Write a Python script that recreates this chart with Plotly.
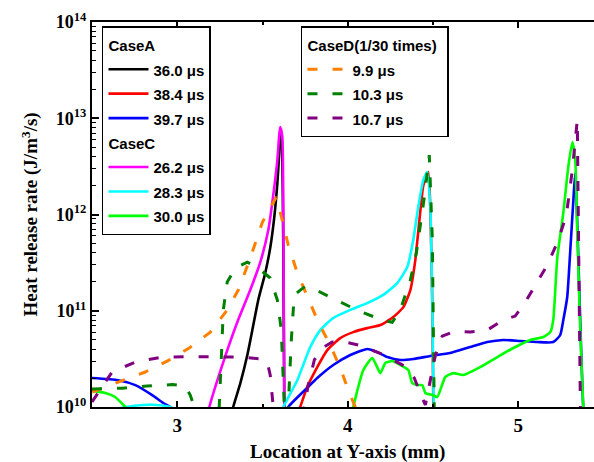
import plotly.graph_objects as go

# ---------------- data ----------------
# CaseA
x_a360 = [3.317, 3.328, 3.37, 3.411, 3.446, 3.475, 3.516, 3.545, 3.569, 3.587, 3.598, 3.604, 3.613, 3.622, 3.628, 3.633]
y_a360 = [8e9, 1e10, 1.77e10, 3.47e10, 7.1e10, 1.29e11, 2.47e11, 4.48e11, 9.4e11, 2.12e12, 4.34e12, 7.2e12, 5.9e12, 4.27e11, 1e10, 5e9]

x_a384 = [3.70, 3.721, 3.762, 3.821, 3.880, 3.956, 4.032, 4.114, 4.191, 4.267, 4.326, 4.367, 4.396, 4.42, 4.443, 4.472, 4.484, 4.496, 4.502, 4.51]
y_a384 = [8e9, 1e10, 1.61e10, 2.6e10, 3.9e10, 5.2e10, 6.0e10, 6.6e10, 7.1e10, 8.6e10, 1.09e11, 1.64e11, 3.36e11, 8.7e11, 2.0e12, 2.76e12, 1.19e12, 1.09e11, 1e10, 5e9]

x_a397 = [2.50, 2.654, 2.754, 2.853, 2.918, 2.959, 2.99, 3.63, 3.651, 3.762, 3.821, 3.915, 4.015, 4.114, 4.173, 4.232, 4.308, 4.384, 4.484, 4.601, 4.718, 4.818, 4.912, 5.012, 5.111, 5.205, 5.246, 5.264, 5.287, 5.305, 5.323, 5.334, 5.381, 5.40]
y_a397 = [2.0e10, 1.9e10, 1.69e10, 1.33e10, 1.1e10, 1e10, 8e9, 8e9, 1e10, 1.58e10, 2.0e10, 2.73e10, 3.47e10, 4.0e10, 3.72e10, 3.3e10, 3.08e10, 3.15e10, 3.39e10, 3.64e10, 4.2e10, 4.73e10, 4.97e10, 4.85e10, 4.73e10, 4.73e10, 5.6e10, 8.0e10, 1.39e11, 4.27e11, 1.41e12, 2.7e12, 1e10, 5e9]

# CaseC
x_c262 = [3.176, 3.188, 3.270, 3.352, 3.428, 3.487, 3.534, 3.563, 3.587, 3.598, 3.604, 3.616, 3.622, 3.628, 3.633]
y_c262 = [8e9, 1e10, 2.93e10, 7.6e10, 1.64e11, 3.2e11, 6.9e11, 1.59e12, 3.67e12, 6.7e12, 8.1e12, 6.4e12, 1.11e12, 1e10, 5e9]

x_c283 = [2.5, 2.65, 2.70, 2.80, 2.88, 2.96, 3.0, 3.604, 3.622, 3.704, 3.780, 3.839, 3.915, 4.015, 4.114, 4.208, 4.290, 4.349, 4.384, 4.413, 4.443, 4.466, 4.484, 4.496, 4.504, 4.51]
y_c283 = [5e9, 9.5e9, 1.0e10, 1.05e10, 1.05e10, 1.0e10, 9e9, 8e9, 1e10, 1.9e10, 4.2e10, 6.3e10, 8.4e10, 1.02e11, 1.2e11, 1.46e11, 1.94e11, 2.84e11, 5.42e11, 1.19e12, 2.28e12, 2.76e12, 1.19e12, 1.09e11, 1e10, 5e9]

x_c300 = [2.50, 2.578, 2.636, 2.666, 2.695, 2.72, 4.02, 4.032, 4.091, 4.144, 4.191, 4.22, 4.261, 4.308, 4.355, 4.378, 4.408, 4.437, 4.455, 4.496, 4.525, 4.572, 4.619, 4.677, 4.777, 4.877, 4.971, 5.070, 5.147, 5.188, 5.205, 5.229, 5.264, 5.293, 5.317, 5.334, 5.346, 5.364, 5.381, 5.39]
y_c300 = [1.47e10, 1.40e10, 1.27e10, 1.13e10, 1e10, 8e9, 8e9, 1e10, 2.42e10, 3.23e10, 2.25e10, 2.86e10, 3.0e10, 2.73e10, 2.42e10, 1.77e10, 1.69e10, 1.69e10, 1.40e10, 1.33e10, 1.27e10, 2.05e10, 2.25e10, 2.15e10, 2.6e10, 3.3e10, 4.1e10, 4.97e10, 5.33e10, 6.0e10, 8.0e10, 3.6e11, 1.04e12, 3.1e12, 5.65e12, 3.67e12, 6.4e11, 5.9e10, 1e10, 5e9]

# CaseD (1/30 times)
x_d99 = [2.501, 2.677, 2.812, 2.941, 3.070, 3.194, 3.293, 3.358, 3.428, 3.499, 3.581, 3.616, 3.651, 3.704, 3.768, 3.827, 3.897, 3.956, 4.003, 4.044, 4.073]
y_d99 = [1.43e10, 1.86e10, 2.31e10, 3.0e10, 4.1e10, 6.0e10, 1.02e11, 1.64e11, 3.52e11, 8.3e11, 1.52e12, 8.7e11, 4.8e11, 2.47e11, 1.36e11, 7.6e10, 4.4e10, 2.54e10, 1.5e10, 1e10, 8e9]

x_d103 = [2.50, 2.677, 2.824, 2.971, 3.047, 3.076, 3.10, 3.135, 3.217, 3.246, 3.258, 3.27, 3.293, 3.34, 3.411, 3.475, 3.545, 3.587, 3.610, 3.622, 3.628, 3.64, 3.651, 3.669, 3.686, 3.751, 3.839, 3.933, 4.062, 4.202, 4.261, 4.308, 4.367, 4.402, 4.425, 4.449, 4.478, 4.496, 4.507, 4.52]
y_d103 = [1.54e10, 1.57e10, 1.65e10, 1.71e10, 1.65e10, 1.33e10, 1e10, 8e9, 8e9, 1e10, 3.08e10, 1.02e11, 1.99e11, 2.77e11, 3.2e11, 2.77e11, 2.19e11, 1.29e11, 6.3e10, 1.9e10, 1e10, 8e9, 1e10, 4.97e10, 1.46e11, 1.8e11, 1.56e11, 1.29e11, 1.0e11, 8.0e10, 7.6e10, 1.02e11, 2.08e11, 3.97e11, 7.8e11, 1.52e12, 4.14e12, 5.4e11, 1e10, 8e9]

x_d107 = [2.50, 2.548, 2.618, 2.754, 2.90, 3.076, 3.223, 3.37, 3.499, 3.528, 3.545, 3.557, 3.563, 3.575, 3.721, 3.745, 3.768, 3.804, 3.85, 3.909, 3.985, 4.062, 4.202, 4.331, 4.39, 4.425, 4.455, 4.484, 4.513, 4.554, 4.63, 4.718, 4.818, 4.912, 4.982, 5.041, 5.10, 5.17, 5.235, 5.282, 5.317, 5.346, 5.364, 5.376]
y_d107 = [1.13e10, 1.5e10, 2.31e10, 2.93e10, 3.27e10, 3.34e10, 3.3e10, 3.3e10, 3.15e10, 2.93e10, 2.15e10, 1.33e10, 1e10, 8e9, 8e9, 1e10, 1.69e10, 3.08e10, 4.1e10, 4.73e10, 4.73e10, 4.4e10, 3.55e10, 2.67e10, 2.0e10, 1.40e10, 1.05e10, 1.9e10, 3.39e10, 5.46e10, 6.15e10, 6.0e10, 6.3e10, 8.0e10, 8.8e10, 1.23e11, 1.85e11, 2.98e11, 5.42e11, 9.9e11, 2.89e12, 9.6e12, 1e10, 8e9]

# ticks
x_tick_vals = [3, 4, 5]
x_tick_text = ["3", "4", "5"]
x_minor_vals = [2.5, 3.5, 4.5, 5.5]
y_tick_vals = [1e10, 1e11, 1e12, 1e13, 1e14]
y_tick_text = ["10<sup>10</sup>", "10<sup>11</sup>", "10<sup>12</sup>", "10<sup>13</sup>", "10<sup>14</sup>"]
y_minor_vals = [m * 10 ** e for e in range(10, 14) for m in range(2, 10)]

SANS = "Liberation Sans, Arial, sans-serif"
SERIF = "Liberation Serif, Times New Roman, serif"


def leg_text(s):
    # rendered at 15px while the legend rows are laid out for a 16.5px font
    return '<span style="font-size:15px">' + s + '</span>'


series = [
    ("36.0 μs", x_a360, y_a360, "#000000", "solid", "legend", "A", "CaseA"),
    ("38.4 μs", x_a384, y_a384, "#ff0000", "solid", "legend", "A", None),
    ("39.7 μs", x_a397, y_a397, "#0000ff", "solid", "legend", "A", None),
    ("26.2 μs", x_c262, y_c262, "#ff00ff", "solid", "legend", "C", "CaseC"),
    ("28.3 μs", x_c283, y_c283, "#00ffff", "solid", "legend", "C", None),
    ("30.0 μs", x_c300, y_c300, "#00ff00", "solid", "legend", "C", None),
    ("9.9 μs", x_d99, y_d99, "#ff8000", "10px,15px", "legend2", "D", "CaseD(1/30 times)"),
    ("10.3 μs", x_d103, y_d103, "#008000", "10px,15px", "legend2", "D", None),
    ("10.7 μs", x_d107, y_d107, "#800080", "10px,15px", "legend2", "D", None),
]

fig = go.Figure()
for name, xs, ys, col, dash, leg, grp, gtitle in series:
    kw = {}
    if gtitle:
        kw["legendgrouptitle"] = dict(text=leg_text(gtitle),
                                      font=dict(family=SANS, size=16.5, color="black", weight="bold"))
    solid = dash == "solid"
    fig.add_trace(go.Scatter(
        x=xs, y=ys, mode="lines", name=leg_text(name),
        line=dict(color=col, width=2.6 if solid else 3, dash=dash,
                  shape="spline" if solid else "linear", smoothing=0.5 if solid else None),
        legend=leg, legendgroup=grp, **kw))

leg_common = dict(xanchor="left", yanchor="top", bordercolor="black", borderwidth=1.5, bgcolor="white",
                  font=dict(family=SANS, size=16.5, color="black", weight="bold"),
                  tracegroupgap=0, itemwidth=40)

fig.update_layout(
    width=594, height=462,
    margin=dict(l=92, r=0, t=22, b=55),
    paper_bgcolor="white", plot_bgcolor="white",
    showlegend=True,
    xaxis=dict(range=[2.5, 5.444], tickmode="array", tickvals=x_tick_vals, ticktext=x_tick_text,
               ticks="inside", ticklen=6, tickwidth=1.5, tickcolor="black",
               showline=True, linewidth=2, linecolor="black", mirror="ticks",
               minor=dict(tickmode="array", tickvals=x_minor_vals, ticks="inside", ticklen=3, tickwidth=1.5, tickcolor="black"),
               tickfont=dict(family=SERIF, size=19, color="black", weight="bold"),
               showgrid=False, zeroline=False),
    yaxis=dict(type="log", range=[10, 14], tickmode="array", tickvals=y_tick_vals, ticktext=y_tick_text,
               ticks="inside", ticklen=7, tickwidth=1.5, tickcolor="black",
               showline=True, linewidth=2, linecolor="black", mirror=False,
               minor=dict(tickmode="array", tickvals=y_minor_vals, ticks="inside", ticklen=4, tickwidth=1.2, tickcolor="black"),
               tickfont=dict(family=SERIF, size=18, color="black", weight="bold"),
               showgrid=False, zeroline=False),
    legend=dict(x=0.0199, y=0.9896, **leg_common),
    legend2=dict(x=0.4163, y=0.9896, **leg_common),
    annotations=[
        dict(text="Location at Y-axis (mm)", xref="paper", yref="paper", x=0.5085, y=-0.117,
             xanchor="center", yanchor="middle", showarrow=False,
             font=dict(family=SERIF, size=19, color="black", weight="bold")),
        dict(text="Heat release rate (J/m<sup>3</sup>/s)", xref="paper", yref="paper", x=-0.1235, y=0.5,
             xanchor="center", yanchor="middle", showarrow=False, textangle=-90,
             font=dict(family=SERIF, size=19, color="black", weight="bold")),
    ],
)

fig.write_html("out.html")
